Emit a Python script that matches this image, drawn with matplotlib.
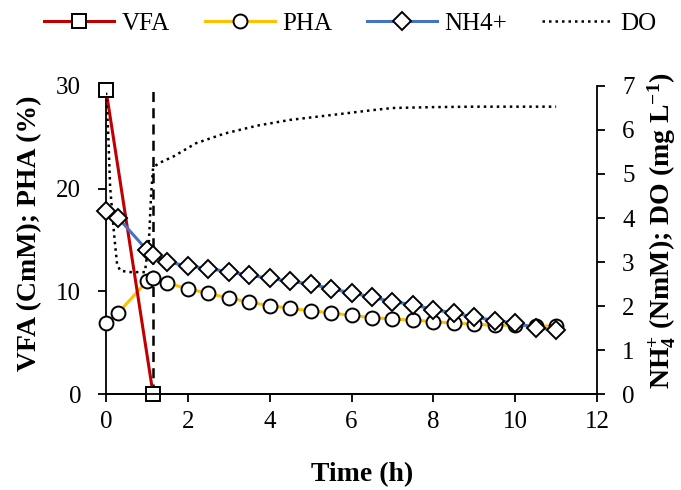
import matplotlib
matplotlib.use('Agg')
import matplotlib.pyplot as plt
from matplotlib.lines import Line2D

plt.rcParams['font.family'] = ['Liberation Serif', 'DejaVu Serif']
plt.rcParams['mathtext.fontset'] = 'custom'
plt.rcParams['mathtext.rm'] = 'Liberation Serif'
plt.rcParams['mathtext.bf'] = 'Liberation Serif:bold'
plt.rcParams['mathtext.it'] = 'Liberation Serif:italic'

# VFA (CmM), left axis
vfa_t = [0, 1.15]
vfa = [29.6, 0]

# PHA (%), left axis
pha_t = [0, 0.3, 1.0, 1.15, 1.5, 2, 2.5, 3, 3.5, 4, 4.5, 5, 5.5, 6, 6.5, 7,
         7.5, 8, 8.5, 9, 9.5, 10, 10.5, 11]
pha = [6.9, 7.9, 11.0, 11.3, 10.8, 10.25, 9.8, 9.35, 8.95, 8.6, 8.35, 8.1,
       7.9, 7.65, 7.45, 7.3, 7.2, 7.05, 6.9, 6.8, 6.7, 6.7, 6.6, 6.65]

# NH4+ (NmM), right axis
nh4_t = pha_t
nh4 = [4.15, 4.0, 3.27, 3.16, 3.0, 2.91, 2.85, 2.78, 2.7, 2.63, 2.56, 2.5,
       2.39, 2.3, 2.2, 2.1, 2.03, 1.92, 1.84, 1.75, 1.67, 1.61, 1.51, 1.45]

# DO (mg/L), right axis
do_t = [0, 0.05, 0.1, 0.2, 0.27, 0.35, 0.6, 0.95, 1.05, 1.1, 1.15, 1.3, 1.65,
        2.2, 2.9, 3.7, 4.5, 5.6, 6.5, 7, 8, 9, 10, 11]
do = [6.85, 6.0, 4.7, 3.6, 2.95, 2.8, 2.77, 2.77, 3.5, 4.5, 5.15, 5.25, 5.4,
      5.7, 5.92, 6.1, 6.23, 6.35, 6.45, 6.5, 6.52, 6.53, 6.53, 6.53]

switch_t = 1.15

red = '#C00000'
yellow = '#FFC000'
blue = '#4472C4'

fig = plt.figure(figsize=(6.81, 4.90), dpi=100)
ax = fig.add_axes([0.1557, 0.1959, 0.7210, 0.6286])
ax2 = ax.twinx()

mk = dict(markerfacecolor='white', markeredgecolor='black', markeredgewidth=1.4)

ax.plot([switch_t, switch_t], [0, 30], color='black', lw=1.8, ls=(0, (4, 2.5)), zorder=1)
ax.plot(pha_t, pha, color=yellow, lw=2.2, marker='o', markersize=10, zorder=3,
        clip_on=False, **mk)
ax.plot(vfa_t, vfa, color=red, lw=2.2, marker='s', markersize=10, zorder=4,
        clip_on=False, **mk)

ax2.plot(do_t, do, color='black', lw=1.8, ls=(0, (1, 1.6)))
ax2.plot(nh4_t, nh4, color=blue, lw=2.2, marker='D', markersize=9, clip_on=False, **mk)

ax.set_xlim(0, 12)
ax.set_ylim(0, 30)
ax2.set_ylim(0, 7)
ax.set_xticks(range(0, 13, 2))
ax.set_yticks([0, 10, 20, 30])
ax2.set_yticks(range(0, 8))

for a in (ax, ax2):
    a.spines['top'].set_visible(False)
    for s in a.spines.values():
        s.set_linewidth(1.3)
    a.tick_params(direction='out', length=6, width=1.3, labelsize=18, pad=12)
ax.tick_params(axis='x', pad=6)
ax2.spines['left'].set_visible(False)
ax.spines['right'].set_visible(False)

ax.set_xlabel('Time (h)', fontsize=20, fontweight='bold')
ax.xaxis.set_label_coords(0.521, -0.22)
ax.xaxis.label.set_verticalalignment('top')
ax.set_ylabel('VFA (CmM); PHA (%)', fontsize=20, fontweight='bold')
ax.yaxis.set_label_coords(-0.13, 0.523)
ax2.set_ylabel(r'NH$_\mathbf{4}^\mathbf{+}$ (NmM); DO (mg L$^{\mathbf{-1}}$)',
               fontsize=20, fontweight='bold')
ax2.yaxis.set_label_coords(1.097, 0.53)

handles = [
    Line2D([], [], color=red, lw=2.2, marker='s', markersize=10, **mk),
    Line2D([], [], color=yellow, lw=2.2, marker='o', markersize=10, **mk),
    Line2D([], [], color=blue, lw=2.2, marker='D', markersize=9, **mk),
    Line2D([], [], color='black', lw=1.8, ls=(0, (1, 1.6))),
]
fig.legend(handles, ['VFA', 'PHA', 'NH4+', 'DO'], loc='upper center',
           bbox_to_anchor=(0.514, 1.02), ncol=4, frameon=False, fontsize=18,
           handlelength=2.8, columnspacing=1.4, handletextpad=0.3)

fig.savefig('out.png', dpi=100)
